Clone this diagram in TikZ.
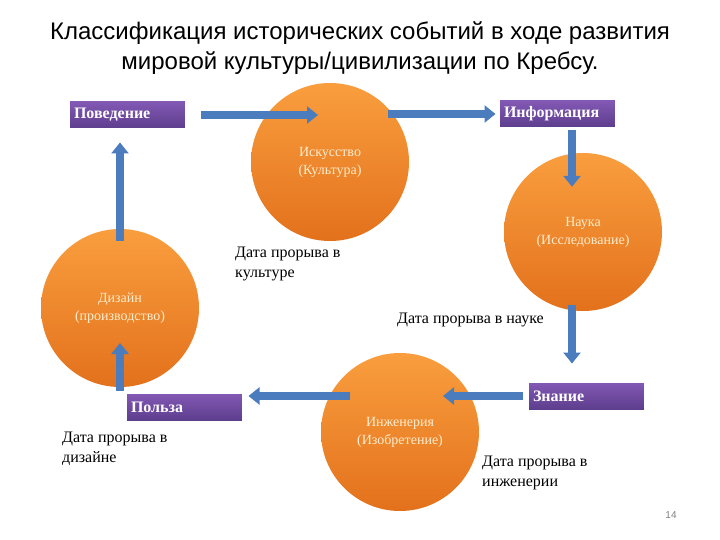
\documentclass[tikz,border=0pt]{standalone}
\usepackage{fontspec}
\setmainfont{Liberation Serif}
\newfontfamily\titlefont{Liberation Sans}
\usepackage{xcolor}
\usepackage{tikz}
\usetikzlibrary{arrows.meta,positioning,calc}

\definecolor{orgL}{HTML}{F99E3E}
\definecolor{orgD}{HTML}{E3711C}
\definecolor{vioL}{HTML}{8359B5}
\definecolor{vioD}{HTML}{5C3D8C}
\definecolor{arrblue}{HTML}{4A7CBE}
\definecolor{cream}{HTML}{FFEDCF}

\begin{document}
\begin{tikzpicture}[x=1pt,y=-1pt,
    ball/.style={circle,minimum size=158pt,inner sep=0pt,top color=orgL,bottom color=orgD,
      draw=none,text=cream,align=center,font=\fontsize{14}{18}\selectfont},
    tag/.style={rectangle,top color=vioL,bottom color=vioD,draw=white,line width=1pt,
      minimum height=28pt,text width=106pt,inner xsep=5pt,align=left,text=white,
      font=\fontsize{16}{18}\selectfont\bfseries},
    blk/.style={draw=arrblue,line width=8pt,-{Triangle[width=17pt,length=11pt]}},
    note/.style={align=left,anchor=north west,inner sep=0pt,font=\fontsize{16}{20}\selectfont}]
    \useasboundingbox (0,0) rectangle (720,540);
    \node[font=\titlefont\fontsize{24}{30}\selectfont,align=center] (title) at (360,48)
      {Классификация исторических событий в ходе развития\\мировой культуры/цивилизации по Кребсу.};
    % circles
    \node[ball] (art) at (330,162) {Искусство\\(Культура)};
    \node[ball] (sci) at (583,232) {Наука\\(Исследование)};
    \node[ball] (des) at (120,308) {Дизайн\\(производство)};
    \node[ball] (eng) at (400,432) {Инженерия\\(Изобретение)};
    % boxes
    \node[tag] (beh) at (127,115) {Поведение};
    \node[tag] (info) at (557,114) {Информация};
    \node[tag] (use) at (184,407) {Польза};
    \node[tag] (know) at (586,396) {Знание};
    % arrows
    \draw[blk] ($(beh.east)+(15,0)$) -- ($(art.center |- beh.east)+(-12,0)$);
    \draw[blk] ($(art.center |- info.west)+(58,0)$) -- ($(info.west)+(-3,0)$);
    \draw[blk] ($(info.south)+(15,2)$) -- ($(info.south |- sci.north)+(15,34)$);
    \draw[blk] ($(sci.center)+(-11,73)$) -- ($(sci.center |- know.north)+(-11,-18)$);
    \draw[blk] ($(know.west)+(-5,0)$) -- ($(eng.center |- know.west)+(43,0)$);
    \draw[blk] ($(eng.center |- know.west)+(-50,0)$) -- ($(use.east |- know.west)+(6,0)$);
    \draw[blk] ($(des.center |- use.north)+(0,-2)$) -- ($(des.center)+(0,35)$);
    \draw[blk] ($(des.north)+(0,12)$) -- ($(des.north |- beh.south)+(0,13)$);
    % dates
    \node[note] (d1) at (235,247) {Дата прорыва в\\культуре};
    \node[note] (d2) at (397,313) {Дата прорыва в науке};
    \node[note] (d3) at (62,432) {Дата прорыва в\\дизайне};
    \node[note] (d4) at (482,456) {Дата прорыва в\\инженерии};
    \node[font=\titlefont\fontsize{10}{12}\selectfont,text=gray] (pg) at (671,515) {14};
\end{tikzpicture}
\end{document}
